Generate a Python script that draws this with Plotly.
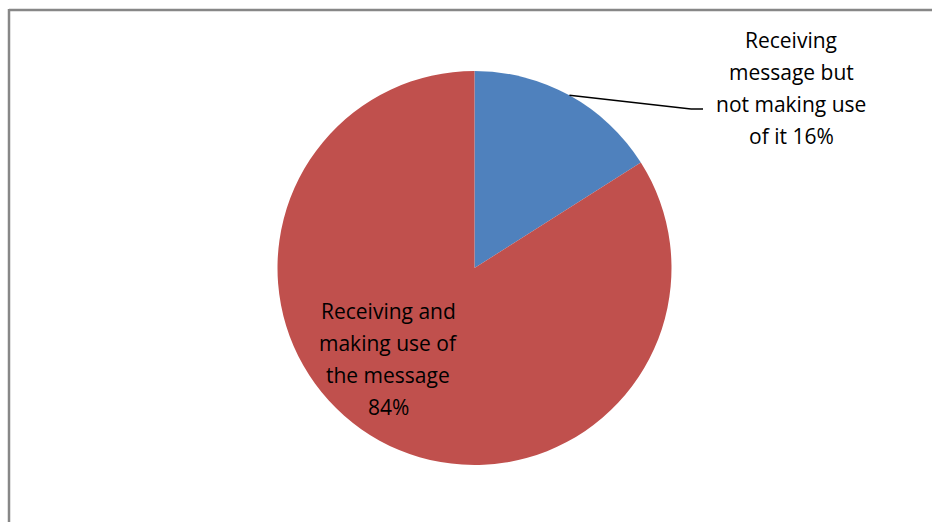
import math
import plotly.graph_objects as go

labels = ["Receiving message but not making use of it", "Receiving and making use of the message"]
values = [16, 84]
colors = ["#4F81BD", "#C0504D"]
label_lines = [
    ["Receiving", "message but", "not making use", "of it 16%"],
    ["Receiving and", "making use of", "the message", "84%"],
]

W, H = 932, 522
cx, cy, r = 474.5, 268, 197

fig = go.Figure(go.Pie(
    labels=labels, values=values, sort=False, direction="clockwise", rotation=0,
    marker=dict(colors=colors, line=dict(width=0)),
    textinfo="none", hoverinfo="label+percent", showlegend=False,
    domain=dict(x=[(cx - r) / W, (cx + r) / W], y=[1 - (cy + r) / H, 1 - (cy - r) / H]),
))

# leader line from blue slice midpoint
total = sum(values)
mid_angle = math.radians(values[0] / total * 360 / 2)
px = cx + r * math.sin(mid_angle)
py = cy - r * math.cos(mid_angle)
ex, ey = 691, 109
fig.add_shape(type="line", xref="paper", yref="paper",
              x0=px / W, y0=1 - py / H, x1=ex / W, y1=1 - ey / H,
              line=dict(color="black", width=1.5))
fig.add_shape(type="line", xref="paper", yref="paper",
              x0=ex / W, y0=1 - ey / H, x1=(ex + 12) / W, y1=1 - ey / H,
              line=dict(color="black", width=1.5))

font = dict(family="Open Sans, Carlito, Calibri, sans-serif", size=21, color="black")
label_pos = [(791, 40), (388, 311)]
line_gap = 32
for lines, (lx, ly) in zip(label_lines, label_pos):
    for i, t in enumerate(lines):
        fig.add_annotation(x=lx / W, y=1 - (ly + i * line_gap) / H, xref="paper", yref="paper",
                           text=t, showarrow=False, font=font, align="center",
                           xanchor="center", yanchor="middle")

# chart frame (cropped at right/bottom)
frame = dict(color="#878787", width=2.5)
fig.add_shape(type="line", xref="paper", yref="paper", x0=9 / W, x1=9 / W, y0=-0.05, y1=1 - 9 / H, line=frame)
fig.add_shape(type="line", xref="paper", yref="paper", x0=9 / W, x1=1.05, y0=1 - 10 / H, y1=1 - 10 / H, line=frame)

fig.update_layout(width=W, height=H, margin=dict(l=0, r=0, t=0, b=0),
                  paper_bgcolor="white", plot_bgcolor="white")
fig.write_html("out.html", config={"displayModeBar": False},
               post_script="document.body.style.margin='0';")
